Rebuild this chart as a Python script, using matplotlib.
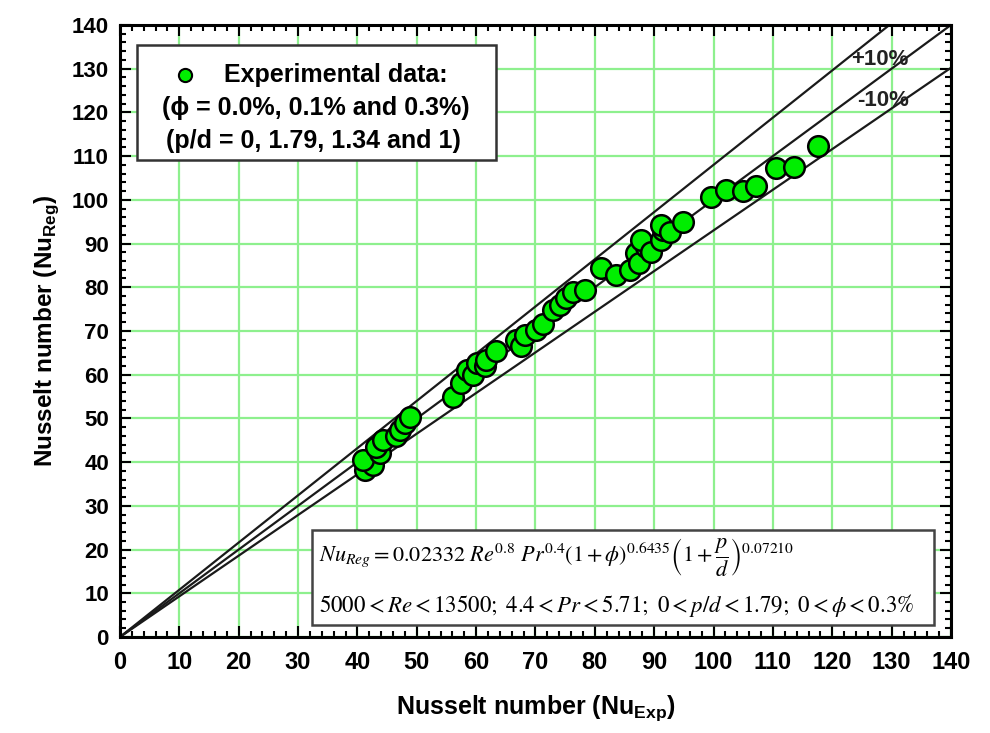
import numpy as np
import matplotlib
matplotlib.use("Agg")
import matplotlib.pyplot as plt
from matplotlib.patches import Rectangle
from matplotlib.ticker import MultipleLocator

plt.rcParams['font.family'] = ['Liberation Sans', 'DejaVu Sans']
plt.rcParams['mathtext.fontset'] = 'custom'
plt.rcParams['mathtext.rm'] = 'Liberation Sans'
plt.rcParams['mathtext.bf'] = 'Liberation Sans:bold'

# experimental vs regression Nusselt numbers
nu_exp = [41.2, 42.6, 41.0, 43.8, 43.2, 44.3, 46.5, 47.1, 48.0, 48.8,
          56.1, 57.5, 58.4, 59.5, 60.1, 61.5, 61.7, 63.4, 66.8, 67.5,
          68.2, 70.1, 71.3, 72.9, 74.1, 75.2, 76.3, 78.3, 81.1, 83.6,
          85.9, 87.0, 87.5, 88.7, 87.8, 89.5, 91.2, 91.5, 91.2, 92.6,
          94.8, 99.6, 102.1, 105.0, 107.2, 110.5, 113.5, 117.6]
nu_reg = [38.2, 39.3, 40.5, 42.0, 43.5, 45.1, 46.0, 47.4, 48.9, 50.4,
          55.0, 58.0, 61.1, 60.0, 62.6, 62.0, 63.4, 65.3, 67.9, 66.5,
          69.1, 70.2, 71.7, 74.8, 76.0, 77.5, 79.0, 79.4, 84.3, 82.8,
          84.0, 87.8, 85.5, 89.3, 90.8, 88.0, 90.8, 93.1, 94.3, 92.7,
          95.0, 100.7, 102.3, 102.0, 103.2, 107.2, 107.6, 112.4]

# reference lines (slopes as drawn)
line_slopes = [1.08, 1.0, 0.93]
line_x = [0, 140]

fig = plt.figure(figsize=(9.9, 7.33), dpi=100)
ax = fig.add_axes([0.1212, 0.131, 0.8394, 0.835])

ax.set_xlim(0, 140)
ax.set_ylim(0, 140)
ax.xaxis.set_major_locator(MultipleLocator(10))
ax.yaxis.set_major_locator(MultipleLocator(10))
ax.xaxis.set_minor_locator(MultipleLocator(2))
ax.yaxis.set_minor_locator(MultipleLocator(2))
ax.grid(True, which='major', color='#8ef08e', lw=1.6, zorder=0)
ax.set_axisbelow(True)

for s in line_slopes:
    ax.plot(line_x, [s * v for v in line_x], color='#1a1a1a', lw=1.6, zorder=2)

ax.scatter(nu_exp, nu_reg, s=220, facecolor='#00ee00', edgecolor='black',
           linewidth=1.8, zorder=3)

ax.text(128, 132, '+10%', fontsize=16, fontweight='bold', color='#222',
        ha='center', va='center', zorder=4)
ax.text(128.5, 122.8, '-10%', fontsize=16, fontweight='bold', color='#222',
        ha='center', va='center', zorder=4)

# legend box
ax.add_patch(Rectangle((2.9, 109.1), 60.4, 26.3, facecolor='white',
                       edgecolor='#333', lw=1.8, zorder=5))
ax.scatter([10.9], [128.6], s=90, facecolor='#00ee00', edgecolor='black',
           linewidth=1.5, zorder=6)
ax.text(17.5, 128.6, 'Experimental data:', fontsize=18, fontweight='bold',
        va='center', ha='left', zorder=6)
ax.text(33.0, 121.0, '(\u03d5 = 0.0%, 0.1% and 0.3%)', fontsize=18,
        fontweight='bold', va='center', ha='center', zorder=6)
ax.text(32.6, 113.4, '(p/d = 0, 1.79, 1.34 and 1)', fontsize=18,
        fontweight='bold', va='center', ha='center', zorder=6)

# correlation box
ax.add_patch(Rectangle((32.3, 2.7), 104.8, 21.8, facecolor='white',
                       edgecolor='#444', lw=1.8, zorder=5))
ax.text(33.5, 18.3,
        r'$Nu_{Reg} = 0.02332\ Re^{0.8}\ Pr^{0.4}(1+\phi)^{0.6435}\left(1+\dfrac{p}{d}\right)^{0.07210}$',
        fontsize=16, va='center', ha='left', zorder=6, math_fontfamily='stix')
ax.text(33.5, 7.2,
        r'$5000 < Re < 13500;\ 4.4 < Pr < 5.71;\ 0 < p/d < 1.79;\ 0 < \phi < 0.3\%$',
        fontsize=16.5, va='center', ha='left', zorder=6, math_fontfamily='stix')

ax.tick_params(which='both', direction='in', top=True, right=True,
               color='black', width=1.5)
ax.tick_params(which='major', length=8)
ax.tick_params(which='minor', length=4)
ax.tick_params(axis='y', labelsize=16, pad=8)
ax.tick_params(axis='x', labelsize=17, pad=10)
for lab in ax.get_yticklabels() + ax.get_xticklabels():
    lab.set_fontweight('bold')

for sp in ax.spines.values():
    sp.set_linewidth(2.2)

ax.set_xlabel(r'Nusselt number (Nu$_{\mathbf{Exp}}$)', fontsize=18,
              fontweight='bold', labelpad=14)
ax.set_ylabel(r'Nusselt number (Nu$_{\mathbf{Reg}}$)', fontsize=17.5,
              fontweight='bold', labelpad=8)

fig.savefig('out.png', dpi=100)
